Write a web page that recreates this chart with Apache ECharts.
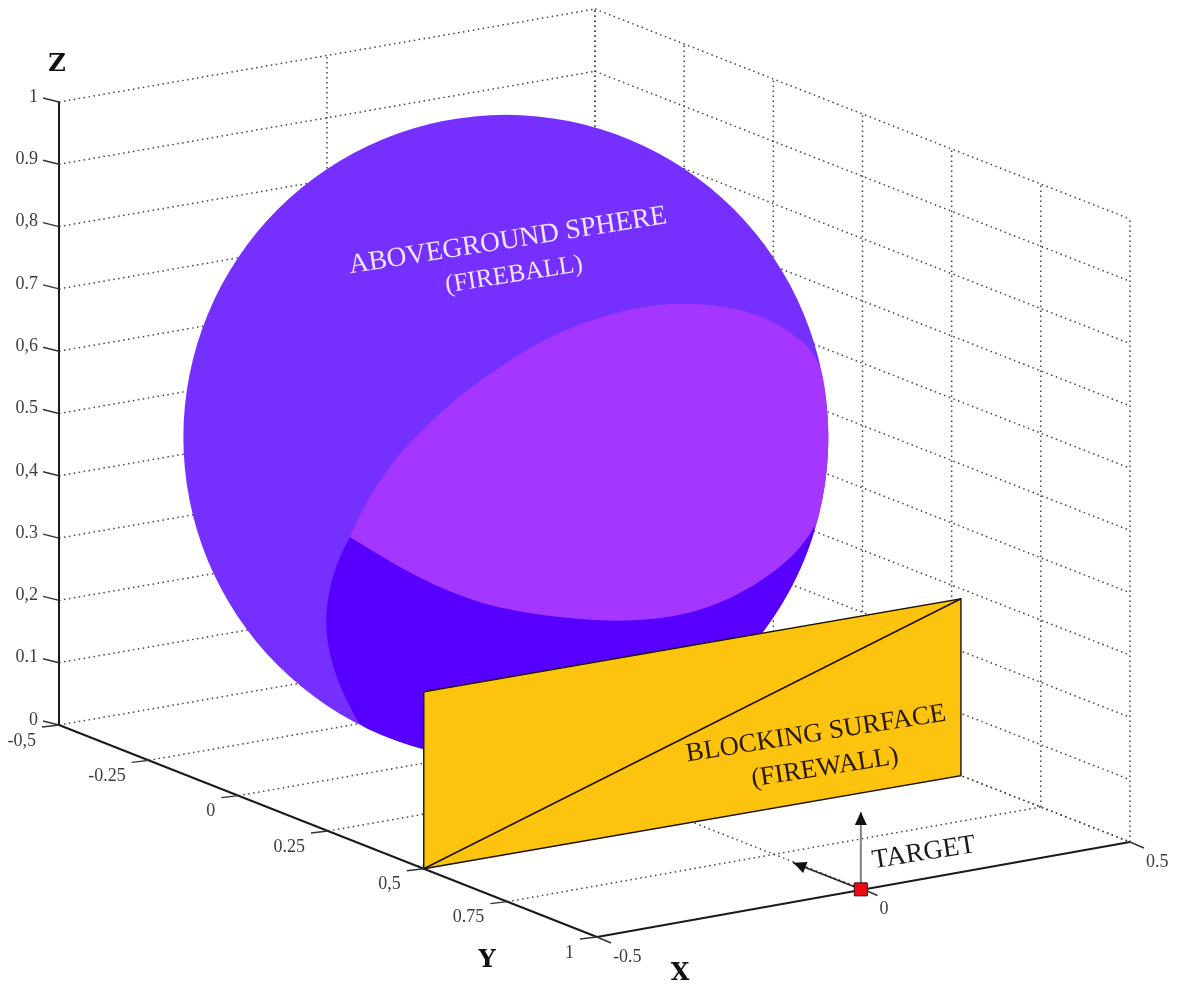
<!DOCTYPE html>
<html>
<head>
<meta charset="utf-8">
<style>html,body{margin:0;padding:0;background:#fff}#c{width:1181px;height:987px}</style>
<script src="https://cdn.jsdelivr.net/npm/echarts@6/dist/echarts.min.js"></script>
</head>
<body>
<div id="c"></div>
<script>
// ---- axis ticks ----
const zTicks = [0, 0.1, 0.2, 0.3, 0.4, 0.5, 0.6, 0.7, 0.8, 0.9, 1];
const zLabels = ['0', '0.1', '0,2', '0.3', '0,4', '0.5', '0,6', '0.7', '0,8', '0.9', '1'];
const yTicks = [-0.5, -0.25, 0, 0.25, 0.5, 0.75, 1];
const yLabels = ['-0,5', '-0.25', '0', '0.25', '0,5', '0.75', '1'];
const xTicks = [-0.5, 0, 0.5];
const xLabels = ['-0.5', '0', '0.5'];
// ---- objects in chart units ----
const sphereCentre = [0, 0, 0.5];
const sphereRadius = 0.5176;
const wallX = [-0.5, 0.5];
const wallY = [0.517, 0.526];
const wallTopZ = 0.284;
const target = [-0.003, 0.997, 0];
const targetArrowZ = 0.124;
const targetArrowY = 0.808;
// ---- shading boundaries traced on the sphere (view plane) ----
const capTop = [[350,537],[367,500],[400,453],[433,420],[467,390],[540,341],[610,314],[680,302],[747,311],[780,326],[803,342],[816,358],[823,378]];
const capBottom = [[350,537],[417,577],[483,604],[550,616],[613,621],[680,616],[740,594],[793,557],[815,525]];
const shadowEdge = [[350,537],[337,563],[328,597],[326,630],[332,663],[343,693],[358,722]];
// ---- texts ----
const axisNames = [['Z',57,65],['Y',487,961],['X',680,974]];
const notes = [
  ['ABOVEGROUND SPHERE',508,241,'#f1e4ff',27.5],
  ['(FIREBALL)',514,275,'#f1e4ff',25.5],
  ['BLOCKING SURFACE',816,734,'#2a1a05',26.7],
  ['(FIREWALL)',825,768,'#2a1a05',26.5],
  ['TARGET',924,853,'#1a1a1a',27]
];

// parallel-ish view of the plot box
const F00=[59,725],F10=[595,632],F01=[597,937],F11=[1130,842],ZS=623;
function P(x,y,z){
  const u=x+0.5,v=(y+0.5)/1.5;
  const px=i=>F00[i]*(1-u)*(1-v)+F10[i]*u*(1-v)+F01[i]*(1-u)*v+F11[i]*u*v;
  return [px(0),px(1)-ZS*(z||0)];
}
function spline(pts){
  let out=[];
  for(let i=0;i<pts.length-1;i++){
    const a=pts[Math.max(i-1,0)],b=pts[i],c=pts[i+1],d=pts[Math.min(i+2,pts.length-1)];
    for(let k=0;k<8;k++){
      const t=k/8,t2=t*t,t3=t2*t;
      out.push([0,1].map(j=>0.5*(2*b[j]+(c[j]-a[j])*t+(2*a[j]-5*b[j]+4*c[j]-d[j])*t2+(3*b[j]-a[j]-3*c[j]+d[j])*t3)));
    }
  }
  out.push(pts[pts.length-1]);
  // ease the joins between traced points, keeping both ends fixed
  for(let pass=0;pass<2;pass++){
    out=out.map((p,i)=>{
      const h=Math.min(3,i,out.length-1-i);
      if(h===0)return p;
      let sx=0,sy=0;
      for(let k=-h;k<=h;k++){sx+=out[i+k][0];sy+=out[i+k][1];}
      return [sx/(2*h+1),sy/(2*h+1)];
    });
  }
  return out;
}
const SC=P(sphereCentre[0],sphereCentre[1],sphereCentre[2]),SR=sphereRadius*ZS;
function arc(from,to){
  let a=Math.atan2(from[1]-SC[1],from[0]-SC[0]),b=Math.atan2(to[1]-SC[1],to[0]-SC[0]);
  const out=[],n=60;
  for(let i=1;i<n;i++){const t=a+(b-a)*i/n;out.push([SC[0]+SR*Math.cos(t),SC[1]+SR*Math.sin(t)]);}
  return out;
}
const capTopEnd=capTop[capTop.length-1],capBotEnd=capBottom[capBottom.length-1],shEnd=shadowEdge[shadowEdge.length-1];
const capPoly=[...spline(capTop),...arc(capTopEnd,capBotEnd),...spline(capBottom).reverse()];
const shadowPoly=[...spline(shadowEdge),...arc(shEnd,capBotEnd),...spline(capBottom).reverse()];

// dotted box grid
const gridSegs=[];
zTicks.forEach(z=>{
  gridSegs.push([P(-.5,-.5,z),P(.5,-.5,z)]);
  gridSegs.push([P(.5,-.5,z),P(.5,1,z)]);
});
yTicks.forEach(y=>{
  gridSegs.push([P(.5,y,0),P(.5,y,1)]);
  if(y>-.5&&y<1)gridSegs.push([P(-.5,y,0),P(.5,y,0)]);
});
xTicks.forEach(x=>{
  if(x>-.5){gridSegs.push([P(x,-.5,0),P(x,-.5,1)]);gridSegs.push([P(x,-.5,0),P(x,1,0)]);}
});

// solid axes and ticks
const axisSegs=[[P(-.5,-.5,0),P(-.5,-.5,1)],[P(-.5,-.5,0),P(-.5,1,0)],[P(-.5,1,0),P(.5,1,0)]];
const tickSegs=[];
const tickTexts=[];
zTicks.forEach((z,i)=>{const p=P(-.5,-.5,z);tickSegs.push([p,[p[0]-16,p[1]-4]]);tickTexts.push([zLabels[i],p[0]-21,p[1]-5,'right']);});
yTicks.forEach((y,i)=>{const p=P(-.5,y===0.5?wallY[0]:y,0);tickSegs.push([p,[p[0]-17,p[1]+2]]);tickTexts.push([yLabels[i],p[0]-23,p[1]+16,'right']);});
xTicks.forEach((x,i)=>{const p=P(x,1,0);tickSegs.push([p,[p[0]+14,p[1]+6]]);tickTexts.push([xLabels[i],p[0]+16,p[1]+20,'left']);});

const W=[P(wallX[0],wallY[0],0),P(wallX[1],wallY[1],0),P(wallX[1],wallY[1],wallTopZ),P(wallX[0],wallY[0],wallTopZ)];
const T=P(target[0],target[1],0);
const upTip=P(target[0],target[1],targetArrowZ);
const backTip=P(target[0],targetArrowY,0);

function segSeries(name,segs,style,z){
  return {type:'custom',name,coordinateSystem:'cartesian2d',z,silent:true,clip:false,
    data:segs.map(s=>[s[0][0],s[0][1],s[1][0],s[1][1]]),
    renderItem(p,api){
      const a=api.coord([api.value(0),api.value(1)]),b=api.coord([api.value(2),api.value(3)]);
      return {type:'line',shape:{x1:a[0],y1:a[1],x2:b[0],y2:b[1]},style};
    }};
}
function polySeries(name,pts,fill,z,stroke,lw){
  return {type:'custom',name,coordinateSystem:'cartesian2d',z,silent:true,clip:false,
    data:pts,
    renderItem(p,api){
      if(p.dataIndex!==0)return null;
      return {type:'polygon',shape:{points:pts.map(q=>api.coord(q))},style:{fill,stroke:stroke||null,lineWidth:lw||0}};
    }};
}
function textSeries(name,rows,styleOf,z){
  return {type:'custom',name,coordinateSystem:'cartesian2d',z,silent:true,clip:false,
    data:rows.map(r=>[r[1],r[2]]),
    renderItem(p,api){
      const r=rows[p.dataIndex],c=api.coord([api.value(0),api.value(1)]);
      const s=styleOf(r);
      return {type:'text',x:c[0],y:c[1],rotation:s.rotation||0,
        style:{text:r[0],font:s.font,fill:s.fill,align:s.align||'center',verticalAlign:'middle'}};
    }};
}
function arrowHead(tip,from,len,half){
  const dx=tip[0]-from[0],dy=tip[1]-from[1],m=Math.hypot(dx,dy),ux=dx/m,uy=dy/m;
  const bx=tip[0]-ux*len,by=tip[1]-uy*len;
  return [tip,[bx-uy*half,by+ux*half],[bx+uy*half,by-ux*half]];
}

const option={
  animation:false,
  backgroundColor:'#fff',
  grid:{left:0,right:0,top:0,bottom:0},
  xAxis:{type:'value',min:0,max:1181,show:false},
  yAxis:{type:'value',min:0,max:987,inverse:true,show:false},
  tooltip:{show:false},
  series:[
    segSeries('grid',gridSegs,{stroke:'#444',lineWidth:1.5,lineDash:[1.5,3.5],fill:null},1),
    {type:'custom',name:'sphere',coordinateSystem:'cartesian2d',z:2,silent:true,clip:false,
      data:[[SC[0],SC[1],SR]],
      renderItem(p,api){
        const c=api.coord([api.value(0),api.value(1)]);
        return {type:'circle',shape:{cx:c[0],cy:c[1],r:api.value(2)},style:{fill:'#7530ff'}};
      }},
    polySeries('shadow',shadowPoly,'#5700ff',3),
    polySeries('cap',capPoly,'#a536ff',4),
    polySeries('wall',W,'#fdc40f',5,'#1c1005',1.4),
    segSeries('diag',[[W[0],W[2]]],{stroke:'#1c1005',lineWidth:1.5},6),
    segSeries('axes',axisSegs,{stroke:'#1a1a1a',lineWidth:2},7),
    segSeries('ticks',tickSegs,{stroke:'#333',lineWidth:1.4},7),
    segSeries('arrowUp',[[T,upTip]],{stroke:'#808080',lineWidth:2},8),
    segSeries('arrowBack',[[T,backTip]],{stroke:'#222',lineWidth:1.6},8),
    polySeries('headUp',arrowHead(upTip,T,13,6),'#111',9),
    polySeries('headBack',arrowHead(backTip,T,13,6),'#111',9),
    {type:'custom',name:'target',coordinateSystem:'cartesian2d',z:10,silent:true,clip:false,
      data:[T],
      renderItem(p,api){
        const c=api.coord([api.value(0),api.value(1)]);
        return {type:'rect',shape:{x:c[0]-6.5,y:c[1]-6.5,width:13,height:13},style:{fill:'#ee0a14',stroke:'#3a1010',lineWidth:1}};
      }},
    textSeries('tickText',tickTexts,r=>({font:'18px "Liberation Serif"',fill:'#3c3c3c',align:r[3]}),11),
    textSeries('axisNames',axisNames,()=>({font:'bold 24px "DejaVu Serif"',fill:'#111'}),11),
    textSeries('notes',notes,r=>({font:r[4]+'px "Liberation Serif"',fill:r[3],rotation:9*Math.PI/180}),11)
  ]
};
echarts.init(document.getElementById('c'),null,{renderer:'canvas'}).setOption(option);
</script>
</body>
</html>
